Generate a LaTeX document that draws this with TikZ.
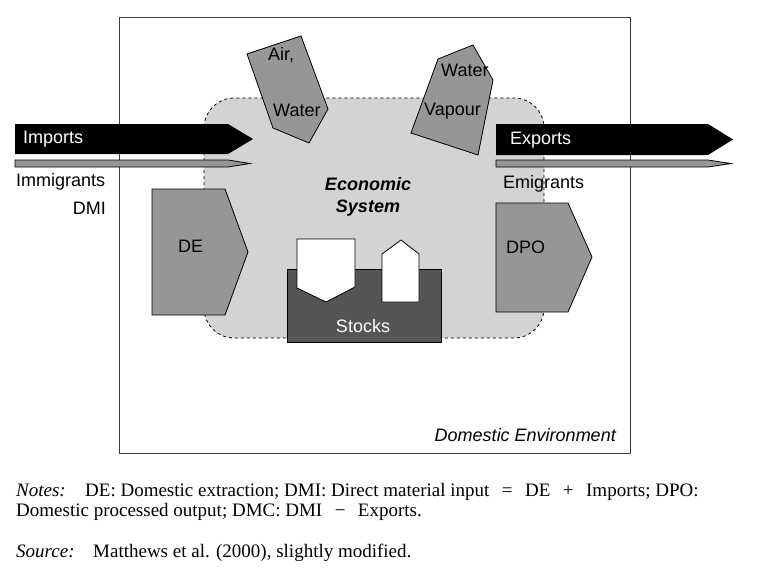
\documentclass[tikz,border=0pt]{standalone}
\usepackage{fontspec}
\setmainfont{Liberation Sans}
\newfontfamily\notefont{Liberation Serif}
\usetikzlibrary{positioning}
\definecolor{framegray}{RGB}{60,60,60}
\definecolor{ecogray}{RGB}{211,211,213}
\definecolor{flowgray}{RGB}{150,150,150}
\definecolor{stockgray}{RGB}{85,85,87}
\newcommand\opsp{\hspace{12.5pt}}

\begin{document}
\begin{tikzpicture}[
            x=1pt, y=-1pt,
            every node/.style={font=\fontsize{18}{20}\selectfont, inner sep=0pt},
            envbox/.style={draw=framegray, line width=1pt},
            ecobox/.style={draw=black, dashed, fill=ecogray, rounded corners=30pt, line width=0.8pt},
            flow/.style={draw=black, fill=flowgray, line width=0.8pt},
            bigarrow/.style={fill=black},
            thinarrow/.style={draw=black, fill=flowgray, line width=0.8pt},
            stockbox/.style={draw=black, fill=stockgray, line width=0.8pt},
            stockitem/.style={draw=black, fill=white, line width=0.8pt},
            lbl/.style={anchor=base west},
            whitelbl/.style={anchor=base west, text=white},
            ecolbl/.style={anchor=base, font=\fontsize{18}{20}\selectfont\bfseries\itshape},
            note/.style={anchor=base west, font=\notefont\fontsize{19}{20}\selectfont}
        ]

        \useasboundingbox (0,0) rectangle (758,571);

        % environment and economy
        \draw[envbox] (119,17) rectangle (630,453);
        \draw[ecobox] (204,98) rectangle (544,338);

        % inputs
        \fill[bigarrow] (15,124) -- (228,124) -- (253,139) -- (228,154) -- (15,154) -- cycle;
        \draw[thinarrow] (15,160) -- (228,160) -- (250,163.5) -- (228,167) -- (15,167) -- cycle;
        \draw[flow] (152,189) -- (225,189) -- (248,252) -- (225,315) -- (152,315) -- cycle;

        % outputs
        \fill[bigarrow] (496,124) -- (708,124) -- (733,139.5) -- (708,155) -- (496,155) -- cycle;
        \draw[thinarrow] (496,160) -- (708,160) -- (731,163.5) -- (708,167) -- (496,167) -- cycle;
        \draw[flow] (496,203) -- (568,203) -- (592,257) -- (568,312) -- (496,312) -- cycle;

        % stocks
        \draw[stockbox] (287,269) rectangle (441,342);
        \draw[stockitem] (297,239) -- (355,239) -- (355,287) -- (326,302) -- (297,288) -- cycle;
        \draw[stockitem] (382,302) -- (382,254) -- (401,240) -- (419,254) -- (419,302) -- cycle;

        % tilted flows
        \draw[flow] (247,54) -- (301,36) -- (328,109) -- (309,143) -- (273,128) -- cycle;
        \draw[flow] (438,59) -- (473,45) -- (493,80) -- (478,155) -- (411,133) -- cycle;

        % labels
        \node[whitelbl] (imports) at (23,143) {Imports};
        \node[lbl] (immigrants) at (16,186) {Immigrants};
        \node[anchor=base east] (dmi) at (106,214) {DMI};
        \node[whitelbl] (exports) at (510,144) {Exports};
        \node[lbl] (emigrants) at (503,188) {Emigrants};
        \node[lbl] (de) at (178,252) {DE};
        \node[lbl] (dpo) at (506,253) {DPO};
        \node[anchor=base, text=white] (stocks) at (363,332) {Stocks};
        \node[ecolbl] (economic) at (368,190) {Economic};
        \node[ecolbl] (system) at ([yshift=-22pt]economic.base) {System};
        \node[lbl] (air) at (268,60) {Air,};
        \node[lbl] (water) at (273,116) {Water};
        \node[lbl] (vapwater) at (441,76) {Water};
        \node[lbl] (vapour) at (424,115) {Vapour};
        \node[anchor=base east, font=\fontsize{18}{20}\selectfont\itshape] (domenv) at (616,441) {Domestic Environment};

        % notes
        \node[note] (notes) at (16,496) {\itshape Notes:};
        \node[note] (notesa) at (85,496) {DE: Domestic extraction; DMI: Direct material input\opsp=\opsp DE\opsp+\opsp Imports; DPO:};
        \node[note] (notesb) at (16,516) {Domestic processed output; DMC: DMI\opsp−\opsp Exports.};
        \node[note] (source) at (16,557) {\itshape Source:};
        \node[note] (sourcea) at (93,557) {Matthews et al. (2000), slightly modified.};

        \end{tikzpicture}
\end{document}
